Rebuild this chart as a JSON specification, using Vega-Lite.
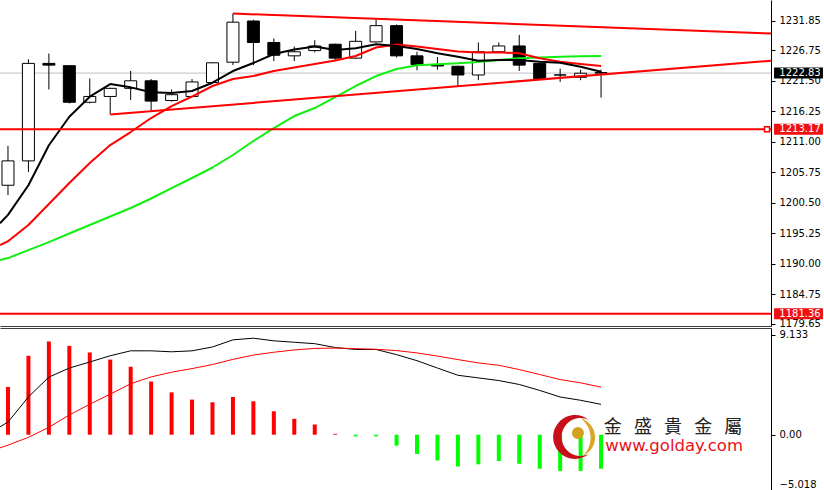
{
"$schema":"https://vega.github.io/schema/vega-lite/v6.json",
"background":"white",
"padding":0,
"spacing":2,
"bounds":"flush",
"config":{
 "view":{"stroke":null},
 "scale":{"continuousPadding":0},
 "axisX":{"labels":false,"ticks":false,"domain":true,"domainColor":"#3c3c3c","grid":false},
 "axisY":{"grid":false,"tickSize":4,"labelPadding":4,"domainColor":"#000000","tickColor":"#000000","labelColor":"#000000","labelFont":"DejaVu Sans","labelFontSize":10}
},
"datasets":{
 "candles":[
  {"i":0,"o":1203.5,"h":1210.3,"l":1201.8,"c":1207.7},
  {"i":1,"o":1207.7,"h":1225.2,"l":1205.8,"c":1224.5},
  {"i":2,"o":1224.5,"h":1226.2,"l":1220.0,"c":1224.2},
  {"i":3,"o":1224.1,"h":1224.2,"l":1217.6,"c":1217.8},
  {"i":4,"o":1217.8,"h":1221.9,"l":1217.6,"c":1218.8},
  {"i":5,"o":1218.8,"h":1220.3,"l":1215.7,"c":1220.2},
  {"i":6,"o":1220.2,"h":1223.2,"l":1218.2,"c":1221.5},
  {"i":7,"o":1221.5,"h":1221.8,"l":1216.3,"c":1218.0},
  {"i":8,"o":1218.1,"h":1220.0,"l":1217.9,"c":1219.1},
  {"i":9,"o":1218.8,"h":1221.8,"l":1218.7,"c":1221.3},
  {"i":10,"o":1221.2,"h":1224.7,"l":1221.0,"c":1224.6},
  {"i":11,"o":1224.7,"h":1233.1,"l":1224.2,"c":1231.6},
  {"i":12,"o":1231.8,"h":1232.0,"l":1224.2,"c":1228.1},
  {"i":13,"o":1228.1,"h":1228.8,"l":1224.9,"c":1225.9},
  {"i":14,"o":1225.8,"h":1227.4,"l":1224.9,"c":1226.5},
  {"i":15,"o":1226.7,"h":1228.5,"l":1226.4,"c":1227.5},
  {"i":16,"o":1227.8,"h":1227.9,"l":1225.1,"c":1225.4},
  {"i":17,"o":1225.4,"h":1230.1,"l":1225.3,"c":1228.3},
  {"i":18,"o":1228.2,"h":1232.1,"l":1228.1,"c":1231.0},
  {"i":19,"o":1231.0,"h":1231.2,"l":1225.5,"c":1225.8},
  {"i":20,"o":1225.8,"h":1226.5,"l":1223.3,"c":1224.3},
  {"i":21,"o":1224.3,"h":1225.6,"l":1223.4,"c":1224.05},
  {"i":22,"o":1224.0,"h":1224.1,"l":1220.6,"c":1222.5},
  {"i":23,"o":1222.5,"h":1228.1,"l":1221.6,"c":1226.5},
  {"i":24,"o":1226.5,"h":1228.1,"l":1226.4,"c":1227.5},
  {"i":25,"o":1227.5,"h":1229.4,"l":1223.2,"c":1224.2},
  {"i":26,"o":1224.5,"h":1224.6,"l":1221.6,"c":1221.8},
  {"i":27,"o":1222.5,"h":1223.6,"l":1221.3,"c":1222.5},
  {"i":28,"o":1222.1,"h":1223.4,"l":1221.6,"c":1222.8},
  {"i":29,"o":1222.9,"h":1223.4,"l":1218.6,"c":1222.83}
 ],
 "ma":[
  {"i":-0.39,"m1":1196.94,"m2":1193.2,"m3":1190.62},
  {"i":0,"m1":1198.4,"m2":1193.85,"m3":1190.95},
  {"i":1,"m1":1203.5,"m2":1196.65,"m3":1192.33},
  {"i":2,"m1":1210.4,"m2":1200.27,"m3":1193.7},
  {"i":3,"m1":1215.3,"m2":1203.89,"m3":1195.18},
  {"i":4,"m1":1218.76,"m2":1207.33,"m3":1196.65},
  {"i":5,"m1":1220.94,"m2":1210.43,"m3":1198.11},
  {"i":6,"m1":1220.37,"m2":1212.67,"m3":1199.58},
  {"i":7,"m1":1219.51,"m2":1215.08,"m3":1201.22},
  {"i":8,"m1":1219.39,"m2":1217.15,"m3":1203.02},
  {"i":9,"m1":1219.74,"m2":1218.79,"m3":1204.75},
  {"i":10,"m1":1221.17,"m2":1220.6,"m3":1206.56},
  {"i":11,"m1":1223.18,"m2":1221.8,"m3":1208.71},
  {"i":12,"m1":1224.56,"m2":1222.32,"m3":1211.12},
  {"i":13,"m1":1226.11,"m2":1223.18,"m3":1213.36},
  {"i":14,"m1":1226.89,"m2":1223.79,"m3":1215.43},
  {"i":15,"m1":1227.4,"m2":1224.39,"m3":1216.81},
  {"i":16,"m1":1226.8,"m2":1224.99,"m3":1218.7},
  {"i":17,"m1":1227.1,"m2":1225.77,"m3":1220.6},
  {"i":18,"m1":1227.8,"m2":1227.23,"m3":1222.32},
  {"i":19,"m1":1227.49,"m2":1227.75,"m3":1223.53},
  {"i":20,"m1":1226.97,"m2":1227.4,"m3":1224.17},
  {"i":21,"m1":1226.23,"m2":1226.97,"m3":1224.34},
  {"i":22,"m1":1225.65,"m2":1226.54,"m3":1224.51},
  {"i":23,"m1":1224.96,"m2":1226.37,"m3":1224.73},
  {"i":24,"m1":1225.08,"m2":1226.4,"m3":1225.08},
  {"i":25,"m1":1225.08,"m2":1226.23,"m3":1225.37},
  {"i":26,"m1":1224.79,"m2":1225.37,"m3":1225.51},
  {"i":27,"m1":1224.61,"m2":1224.79,"m3":1225.63},
  {"i":28,"m1":1223.92,"m2":1224.39,"m3":1225.72},
  {"i":29,"m1":1223.06,"m2":1224.04,"m3":1225.77}
 ],
 "trend":[
  {"t":"up","i":11,"p":1233.09},
  {"t":"up","i":37.31,"p":1229.64},
  {"t":"low","i":5,"p":1215.69},
  {"t":"low","i":37.31,"p":1224.96}
 ],
 "levels":[
  {"p":1222.83,"label":"1222.83","kind":"cur"},
  {"p":1213.17,"label":"1213.17","kind":"line"},
  {"p":1181.36,"label":"1181.36","kind":"line"}
 ],
 "hist":[
  {"i":0,"v":4.34},{"i":1,"v":7.2},{"i":2,"v":8.5},{"i":3,"v":8.1},{"i":4,"v":7.5},
  {"i":5,"v":6.85},{"i":6,"v":6.2},{"i":7,"v":4.85},{"i":8,"v":3.86},{"i":9,"v":3.2},
  {"i":10,"v":2.96},{"i":11,"v":3.44},{"i":12,"v":3.05},{"i":13,"v":2.14},{"i":14,"v":1.45},
  {"i":15,"v":0.93},{"i":16,"v":0.08},{"i":17,"v":-0.15},{"i":18,"v":-0.15},{"i":19,"v":-1.0},
  {"i":20,"v":-1.75},{"i":21,"v":-2.35},{"i":22,"v":-2.9},{"i":23,"v":-2.7},{"i":24,"v":-2.4},
  {"i":25,"v":-2.65},{"i":26,"v":-3.1},{"i":27,"v":-3.3},{"i":28,"v":-3.3},{"i":29,"v":-3.1}
 ],
 "macd":[
  {"i":-0.39,"a":0.72,"b":-1.2},
  {"i":0,"a":1.15,"b":-0.95},
  {"i":1,"a":3.45,"b":-0.24},
  {"i":2,"a":5.25,"b":0.68},
  {"i":3,"a":6.08,"b":1.8},
  {"i":4,"a":6.63,"b":2.78},
  {"i":5,"a":7.2,"b":3.7},
  {"i":6,"a":7.65,"b":4.65},
  {"i":7,"a":7.65,"b":5.27},
  {"i":8,"a":7.56,"b":5.7},
  {"i":9,"a":7.65,"b":6.03},
  {"i":10,"a":8.0,"b":6.4},
  {"i":11,"a":8.65,"b":6.87},
  {"i":12,"a":8.8,"b":7.26},
  {"i":13,"a":8.56,"b":7.52},
  {"i":14,"a":8.43,"b":7.73},
  {"i":15,"a":8.3,"b":7.87},
  {"i":16,"a":7.95,"b":7.9},
  {"i":17,"a":7.77,"b":7.85},
  {"i":18,"a":7.77,"b":7.79},
  {"i":19,"a":7.3,"b":7.67},
  {"i":20,"a":6.75,"b":7.46},
  {"i":21,"a":6.08,"b":7.17},
  {"i":22,"a":5.42,"b":6.85},
  {"i":23,"a":5.18,"b":6.55},
  {"i":24,"a":4.94,"b":6.33},
  {"i":25,"a":4.58,"b":5.94},
  {"i":26,"a":4.04,"b":5.49},
  {"i":27,"a":3.44,"b":5.03},
  {"i":28,"a":3.14,"b":4.73},
  {"i":29,"a":2.77,"b":4.34}
 ],
 "logo":[{"cn":"金\u00a0\u00a0\u00a0盛\u00a0\u00a0\u00a0貴\u00a0\u00a0\u00a0金\u00a0\u00a0\u00a0屬","url":"www.golday.com"}]
},
"vconcat":[
 {"width":771,"height":326,"layer":[
  {"data":{"name":"levels"},"transform":[{"filter":"datum.kind=='cur'"}],
   "mark":{"type":"rule","color":"#c0c0c0","strokeWidth":1,"clip":true},
   "encoding":{"y":{"field":"p","type":"quantitative","scale":{"domain":[1179.25,1235.42],"nice":false,"zero":false},"axis":{"orient":"right","title":null,"values":[1231.85,1226.75,1221.5,1216.25,1211,1205.75,1200.5,1195.25,1190,1184.75,1179.65],"format":".2f"}}}},
  {"data":{"name":"candles"},
   "mark":{"type":"rule","color":"#000000","strokeWidth":1,"clip":true},
   "encoding":{"x":{"field":"i","type":"quantitative","scale":{"domain":[-0.39,37.31],"nice":false,"zero":false},"axis":{"title":null}},
    "y":{"field":"l","type":"quantitative","scale":{"domain":[1179.25,1235.42],"nice":false,"zero":false},"axis":{"orient":"right","title":null,"values":[1231.85,1226.75,1221.5,1216.25,1211,1205.75,1200.5,1195.25,1190,1184.75,1179.65],"format":".2f"}},
    "y2":{"field":"h"}}},
  {"data":{"name":"candles"},
   "mark":{"type":"bar","size":12,"stroke":"#000000","strokeWidth":1,"clip":true},
   "encoding":{"x":{"field":"i","type":"quantitative","scale":{"domain":[-0.39,37.31],"nice":false,"zero":false},"axis":{"title":null}},
    "y":{"field":"o","type":"quantitative","scale":{"domain":[1179.25,1235.42],"nice":false,"zero":false},"axis":{"orient":"right","title":null,"values":[1231.85,1226.75,1221.5,1216.25,1211,1205.75,1200.5,1195.25,1190,1184.75,1179.65],"format":".2f"}},
    "y2":{"field":"c"},
    "fill":{"condition":{"test":"datum.c>=datum.o","value":"#ffffff"},"value":"#000000"}}},
  {"data":{"name":"ma"},
   "mark":{"type":"line","color":"#11ee11","strokeWidth":2,"strokeJoin":"round","clip":true},
   "encoding":{"x":{"field":"i","type":"quantitative","scale":{"domain":[-0.39,37.31],"nice":false,"zero":false},"axis":{"title":null}},
    "y":{"field":"m3","type":"quantitative","scale":{"domain":[1179.25,1235.42],"nice":false,"zero":false},"axis":{"orient":"right","title":null,"values":[1231.85,1226.75,1221.5,1216.25,1211,1205.75,1200.5,1195.25,1190,1184.75,1179.65],"format":".2f"}}}},
  {"data":{"name":"ma"},
   "mark":{"type":"line","color":"#ff0000","strokeWidth":2,"strokeJoin":"round","clip":true},
   "encoding":{"x":{"field":"i","type":"quantitative","scale":{"domain":[-0.39,37.31],"nice":false,"zero":false},"axis":{"title":null}},
    "y":{"field":"m2","type":"quantitative","scale":{"domain":[1179.25,1235.42],"nice":false,"zero":false},"axis":{"orient":"right","title":null,"values":[1231.85,1226.75,1221.5,1216.25,1211,1205.75,1200.5,1195.25,1190,1184.75,1179.65],"format":".2f"}}}},
  {"data":{"name":"ma"},
   "mark":{"type":"line","color":"#000000","strokeWidth":2,"strokeJoin":"round","clip":true},
   "encoding":{"x":{"field":"i","type":"quantitative","scale":{"domain":[-0.39,37.31],"nice":false,"zero":false},"axis":{"title":null}},
    "y":{"field":"m1","type":"quantitative","scale":{"domain":[1179.25,1235.42],"nice":false,"zero":false},"axis":{"orient":"right","title":null,"values":[1231.85,1226.75,1221.5,1216.25,1211,1205.75,1200.5,1195.25,1190,1184.75,1179.65],"format":".2f"}}}},
  {"data":{"name":"trend"},
   "mark":{"type":"line","color":"#ff0000","strokeWidth":2,"strokeJoin":"round","clip":true},
   "encoding":{"x":{"field":"i","type":"quantitative","scale":{"domain":[-0.39,37.31],"nice":false,"zero":false},"axis":{"title":null}},
    "y":{"field":"p","type":"quantitative","scale":{"domain":[1179.25,1235.42],"nice":false,"zero":false},"axis":{"orient":"right","title":null,"values":[1231.85,1226.75,1221.5,1216.25,1211,1205.75,1200.5,1195.25,1190,1184.75,1179.65],"format":".2f"}},
    "detail":{"field":"t"}}},
  {"data":{"name":"levels"},"transform":[{"filter":"datum.kind=='line'"}],
   "mark":{"type":"rule","color":"#ff0000","strokeWidth":2,"clip":true},
   "encoding":{"y":{"field":"p","type":"quantitative","scale":{"domain":[1179.25,1235.42],"nice":false,"zero":false},"axis":{"orient":"right","title":null,"values":[1231.85,1226.75,1221.5,1216.25,1211,1205.75,1200.5,1195.25,1190,1184.75,1179.65],"format":".2f"}}}},
  {"data":{"name":"levels"},"transform":[{"filter":"datum.p==1213.17"}],
   "mark":{"type":"square","size":25,"fill":"#ffffff","stroke":"#ff0000","strokeWidth":1.5,"opacity":1},
   "encoding":{"x":{"datum":37.115,"type":"quantitative","scale":{"domain":[-0.39,37.31],"nice":false,"zero":false},"axis":{"title":null}},
    "y":{"field":"p","type":"quantitative","scale":{"domain":[1179.25,1235.42],"nice":false,"zero":false},"axis":{"orient":"right","title":null,"values":[1231.85,1226.75,1221.5,1216.25,1211,1205.75,1200.5,1195.25,1190,1184.75,1179.65],"format":".2f"}}}},
  {"data":{"name":"levels"},
   "mark":{"type":"bar","size":11},
   "encoding":{"x":{"datum":37.46,"type":"quantitative","scale":{"domain":[-0.39,37.31],"nice":false,"zero":false},"axis":{"title":null}},
    "x2":{"datum":39.85},
    "y":{"field":"p","type":"quantitative","scale":{"domain":[1179.25,1235.42],"nice":false,"zero":false},"axis":{"orient":"right","title":null,"values":[1231.85,1226.75,1221.5,1216.25,1211,1205.75,1200.5,1195.25,1190,1184.75,1179.65],"format":".2f"}},
    "color":{"condition":{"test":"datum.kind=='cur'","value":"#000000"},"value":"#f01010"}}},
  {"data":{"name":"levels"},
   "mark":{"type":"text","color":"#ffffff","font":"DejaVu Sans","fontSize":10,"align":"center","baseline":"middle"},
   "encoding":{"x":{"datum":38.73,"type":"quantitative","scale":{"domain":[-0.39,37.31],"nice":false,"zero":false},"axis":{"title":null}},
    "y":{"field":"p","type":"quantitative","scale":{"domain":[1179.25,1235.42],"nice":false,"zero":false},"axis":{"orient":"right","title":null,"values":[1231.85,1226.75,1221.5,1216.25,1211,1205.75,1200.5,1195.25,1190,1184.75,1179.65],"format":".2f"}},
    "text":{"field":"label"}}}
 ]},
 {"width":771,"height":162,"layer":[
  {"data":{"name":"hist"},
   "mark":{"type":"bar","size":4,"clip":true},
   "encoding":{"x":{"field":"i","type":"quantitative","scale":{"domain":[-0.39,37.31],"nice":false,"zero":false},"axis":{"title":null,"orient":"top"}},
    "y":{"field":"v","type":"quantitative","scale":{"domain":[-5.04,9.73],"nice":false,"zero":false},"axis":{"orient":"right","title":null,"values":[9.133,0,-5.018],"labelExpr":"datum.value == 0 ? '0.00' : format(datum.value, '.3f')","labelBaseline":{"condition":{"test":"datum.value < -5","value":"bottom"},"value":"middle"}}},
    "y2":{"datum":0},
    "color":{"condition":{"test":"datum.v>=0","value":"#ff0000"},"value":"#00ff00"}}},
  {"data":{"name":"macd"},
   "mark":{"type":"line","color":"#000000","strokeWidth":1,"strokeJoin":"round","clip":true},
   "encoding":{"x":{"field":"i","type":"quantitative","scale":{"domain":[-0.39,37.31],"nice":false,"zero":false},"axis":{"title":null,"orient":"top"}},
    "y":{"field":"a","type":"quantitative","scale":{"domain":[-5.04,9.73],"nice":false,"zero":false},"axis":{"orient":"right","title":null,"values":[9.133,0,-5.018],"labelExpr":"datum.value == 0 ? '0.00' : format(datum.value, '.3f')","labelBaseline":{"condition":{"test":"datum.value < -5","value":"bottom"},"value":"middle"}}}}},
  {"data":{"name":"macd"},
   "mark":{"type":"line","color":"#ff0000","strokeWidth":1,"strokeJoin":"round","clip":true},
   "encoding":{"x":{"field":"i","type":"quantitative","scale":{"domain":[-0.39,37.31],"nice":false,"zero":false},"axis":{"title":null,"orient":"top"}},
    "y":{"field":"b","type":"quantitative","scale":{"domain":[-5.04,9.73],"nice":false,"zero":false},"axis":{"orient":"right","title":null,"values":[9.133,0,-5.018],"labelExpr":"datum.value == 0 ? '0.00' : format(datum.value, '.3f')","labelBaseline":{"condition":{"test":"datum.value < -5","value":"bottom"},"value":"middle"}}}}},
  {"data":{"name":"logo"},
   "mark":{"type":"point","shape":"M0.643,-0.766 A1,1 0 1,0 0.643,0.766 A0.861,0.861 0 1,1 0.643,-0.766 Z","size":1936,"filled":true,"color":"#c8101a","opacity":1},
   "encoding":{"x":{"datum":27.73,"type":"quantitative","scale":{"domain":[-0.39,37.31],"nice":false,"zero":false},"axis":{"title":null,"orient":"top"}},
    "y":{"datum":-0.207,"type":"quantitative","scale":{"domain":[-5.04,9.73],"nice":false,"zero":false},"axis":{"orient":"right","title":null,"values":[9.133,0,-5.018],"labelExpr":"datum.value == 0 ? '0.00' : format(datum.value, '.3f')","labelBaseline":{"condition":{"test":"datum.value < -5","value":"bottom"},"value":"middle"}}}}},
  {"data":{"name":"logo"},
   "mark":{"type":"point","shape":"M0.25,-0.85 A0.9,0.9 0 0,1 0.35,0.85 A1.1,1.1 0 0,0 0.25,-0.85 Z","size":1936,"filled":true,"color":"#d9a526","opacity":1},
   "encoding":{"x":{"datum":27.73,"type":"quantitative","scale":{"domain":[-0.39,37.31],"nice":false,"zero":false},"axis":{"title":null,"orient":"top"}},
    "y":{"datum":-0.207,"type":"quantitative","scale":{"domain":[-5.04,9.73],"nice":false,"zero":false},"axis":{"orient":"right","title":null,"values":[9.133,0,-5.018],"labelExpr":"datum.value == 0 ? '0.00' : format(datum.value, '.3f')","labelBaseline":{"condition":{"test":"datum.value < -5","value":"bottom"},"value":"middle"}}}}},
  {"data":{"name":"logo"},
   "mark":{"type":"point","shape":"circle","size":144,"filled":true,"color":"#d4a020","opacity":1},
   "encoding":{"x":{"datum":27.87,"type":"quantitative","scale":{"domain":[-0.39,37.31],"nice":false,"zero":false},"axis":{"title":null,"orient":"top"}},
    "y":{"datum":0.157,"type":"quantitative","scale":{"domain":[-5.04,9.73],"nice":false,"zero":false},"axis":{"orient":"right","title":null,"values":[9.133,0,-5.018],"labelExpr":"datum.value == 0 ? '0.00' : format(datum.value, '.3f')","labelBaseline":{"condition":{"test":"datum.value < -5","value":"bottom"},"value":"middle"}}}}},
  {"data":{"name":"logo"},
   "mark":{"type":"text","font":"Noto Sans CJK TC","fontSize":18,"color":"#222222","align":"center","baseline":"middle"},
   "encoding":{"x":{"datum":32.52,"type":"quantitative","scale":{"domain":[-0.39,37.31],"nice":false,"zero":false},"axis":{"title":null,"orient":"top"}},
    "y":{"datum":0.613,"type":"quantitative","scale":{"domain":[-5.04,9.73],"nice":false,"zero":false},"axis":{"orient":"right","title":null,"values":[9.133,0,-5.018],"labelExpr":"datum.value == 0 ? '0.00' : format(datum.value, '.3f')","labelBaseline":{"condition":{"test":"datum.value < -5","value":"bottom"},"value":"middle"}}},
    "text":{"field":"cn"}}},
  {"data":{"name":"logo"},
   "mark":{"type":"text","font":"DejaVu Sans","fontSize":16.5,"color":"#e8101a","align":"center","baseline":"middle"},
   "encoding":{"x":{"datum":32.57,"type":"quantitative","scale":{"domain":[-0.39,37.31],"nice":false,"zero":false},"axis":{"title":null,"orient":"top"}},
    "y":{"datum":-1.07,"type":"quantitative","scale":{"domain":[-5.04,9.73],"nice":false,"zero":false},"axis":{"orient":"right","title":null,"values":[9.133,0,-5.018],"labelExpr":"datum.value == 0 ? '0.00' : format(datum.value, '.3f')","labelBaseline":{"condition":{"test":"datum.value < -5","value":"bottom"},"value":"middle"}}},
    "text":{"field":"url"}}}
 ]}
]
}
